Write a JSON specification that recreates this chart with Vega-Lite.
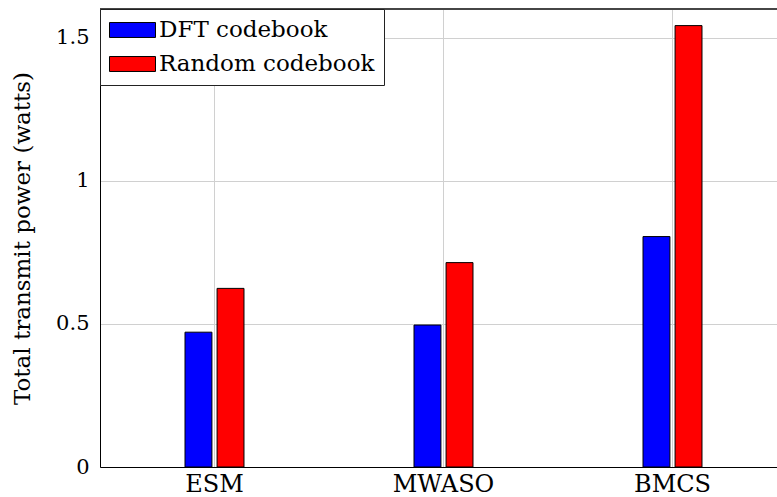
{
  "$schema": "https://vega.github.io/schema/vega-lite/v6.json",
  "autosize": "none",
  "width": 677,
  "height": 458,
  "padding": {"left": 100, "top": 9, "right": 0, "bottom": 30},
  "background": "white",
  "view": {"stroke": null},
  "config": {
    "font": "DejaVu Serif",
    "axis": {"labelFont": "DejaVu Serif", "titleFont": "DejaVu Serif", "labelColor": "black", "titleColor": "black", "gridColor": "#d0d0d0", "gridWidth": 1, "domainColor": "black", "domainWidth": 1},
    "legend": {"labelFont": "DejaVu Serif"}
  },
  "data": {
    "values": [
      {"method": "ESM", "codebook": "DFT codebook", "power": 0.471},
      {"method": "ESM", "codebook": "Random codebook", "power": 0.624},
      {"method": "MWASO", "codebook": "DFT codebook", "power": 0.496},
      {"method": "MWASO", "codebook": "Random codebook", "power": 0.714},
      {"method": "BMCS", "codebook": "DFT codebook", "power": 0.805},
      {"method": "BMCS", "codebook": "Random codebook", "power": 1.542}
    ]
  },
  "layer": [
    {
      "mark": {"type": "bar", "stroke": "black", "strokeWidth": 1},
      "encoding": {
        "x": {
          "field": "method", "type": "nominal", "sort": null,
          "scale": {"range": [0, 687], "paddingInner": 0.7424, "paddingOuter": 0.3712},
          "axis": {"title": null, "labelAngle": 0, "labelFontSize": 24, "labelPadding": 5, "ticks": false, "grid": true, "bandPosition": 0.5}
        },
        "xOffset": {
          "field": "codebook", "type": "nominal",
          "scale": {"paddingInner": 0.16, "paddingOuter": 0}
        },
        "y": {
          "field": "power", "type": "quantitative",
          "scale": {"domain": [0, 1.6], "nice": false},
          "axis": {"title": "Total transmit power (watts)", "titleFontSize": 23, "titleFontWeight": "normal", "titlePadding": 21, "values": [0, 0.5, 1, 1.5], "format": "~g", "labelFontSize": 21, "labelPadding": 11, "ticks": false, "grid": true}
        },
        "color": {
          "field": "codebook", "type": "nominal",
          "scale": {"domain": ["DFT codebook", "Random codebook"], "range": ["#0000ff", "#ff0000"]},
          "legend": {
            "title": null, "orient": "top-left", "offset": 0, "padding": 9,
            "fillColor": "white", "strokeColor": "#222",
            "symbolType": "M-1,-0.65H3V0.65H-1Z", "symbolSize": 529,
            "symbolStrokeColor": "black", "symbolStrokeWidth": 1, "symbolOpacity": 1,
            "labelFontSize": 23, "labelOffset": 26, "labelLimit": 400, "rowPadding": 10, "labelColor": "black"
          }
        }
      }
    },
    {
      "mark": {"type": "rule", "color": "#444", "strokeWidth": 1},
      "encoding": {"y": {"datum": 1.6}}
    }
  ]
}
